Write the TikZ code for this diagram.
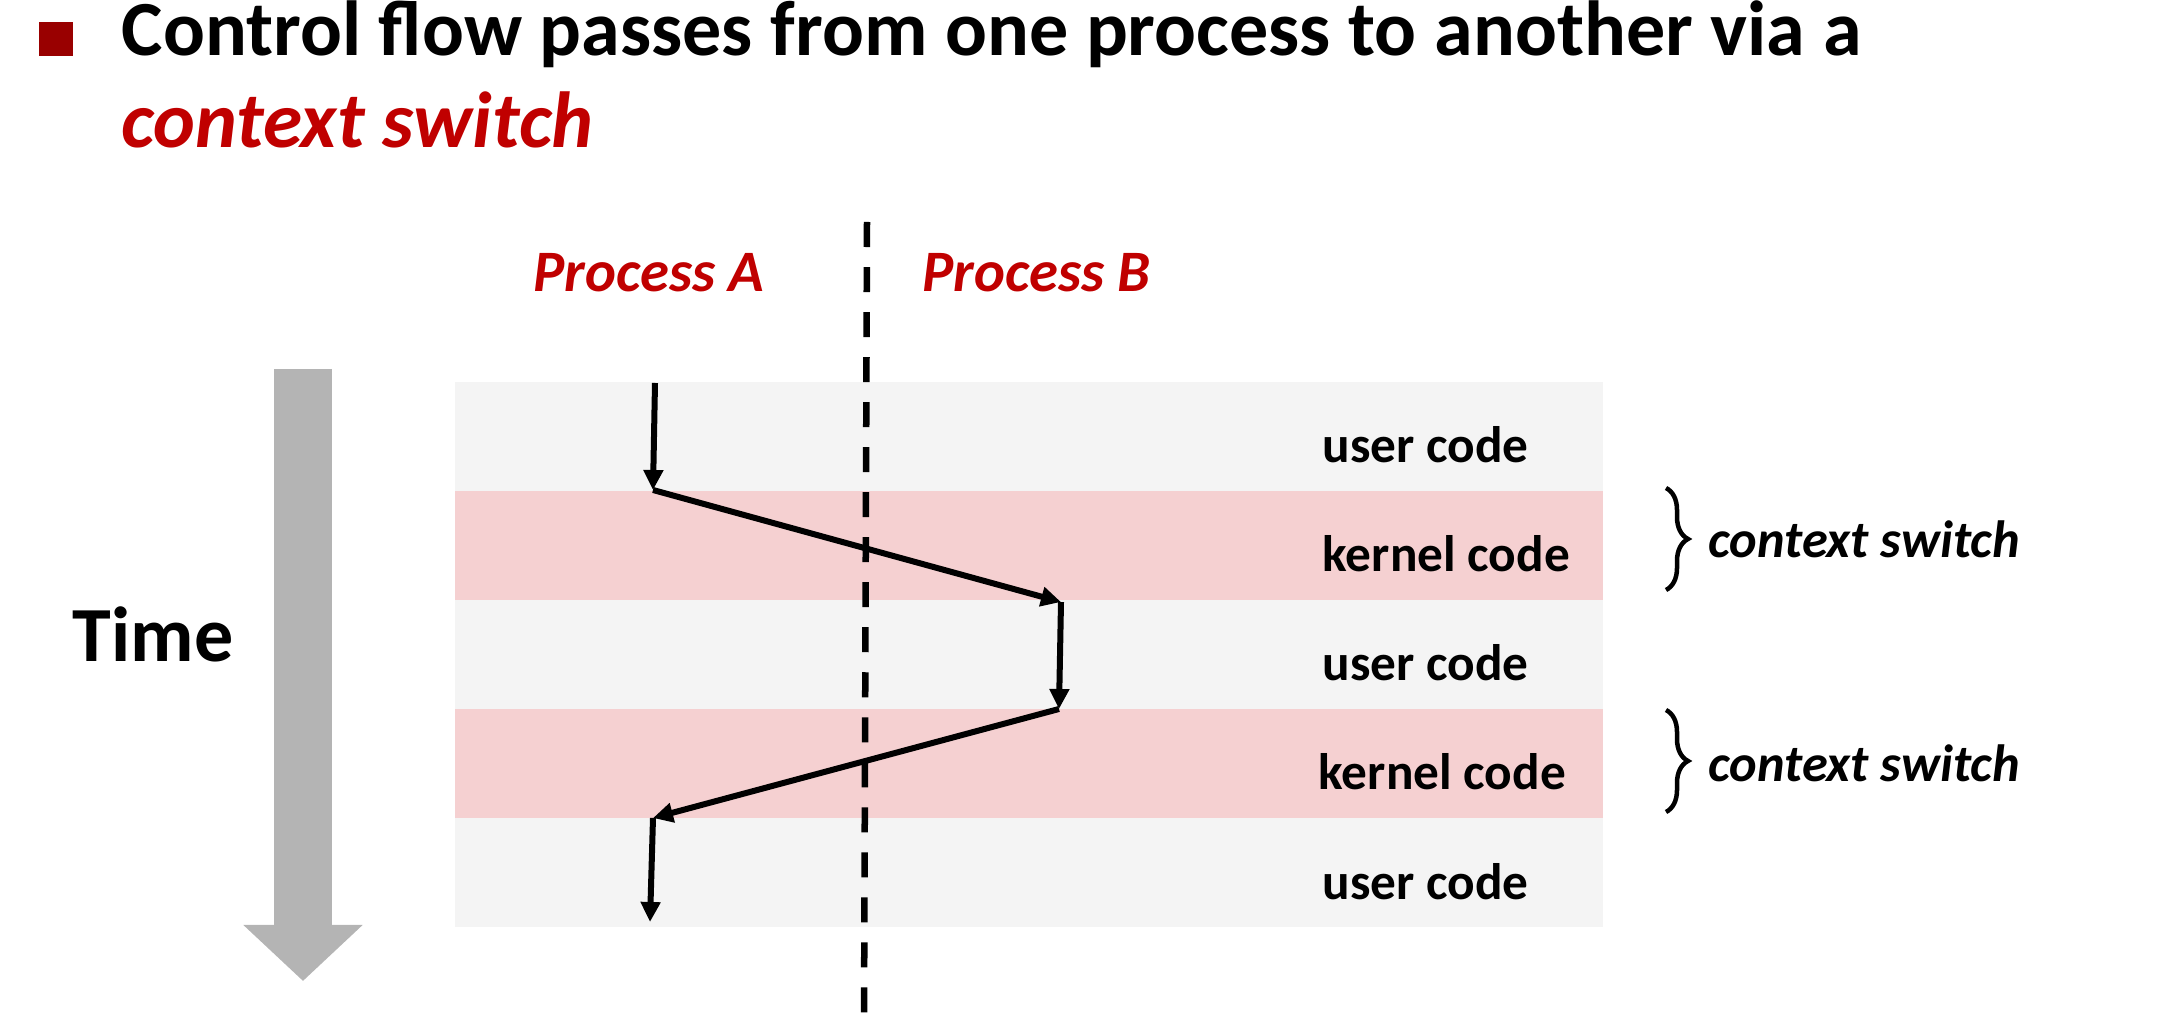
\documentclass[tikz,border=0pt]{standalone}
\usepackage{fontspec}
\setmainfont{Carlito}
\usepackage{tikz}
\usetikzlibrary{arrows.meta,positioning,decorations.pathreplacing}
\definecolor{cRed}{RGB}{192,0,0}
\definecolor{cBullet}{RGB}{153,0,0}
\definecolor{cUser}{RGB}{244,244,244}
\definecolor{cKernel}{RGB}{245,208,209}
\definecolor{cTime}{RGB}{180,180,180}
\tikzset{
headline/.style={anchor=base west,inner sep=0pt,font=\fontsize{22.2pt}{26pt}\selectfont\bfseries},
band/.style={rectangle,inner sep=0pt,outer sep=0pt,minimum width=11.48cm,minimum height=1.09cm},
codelabel/.style={anchor=base west,inner sep=0pt,font=\fontsize{14.6pt}{17pt}\selectfont\bfseries},
ctxlabel/.style={anchor=base west,inner sep=0pt,font=\fontsize{14.9pt}{17pt}\selectfont\bfseries\itshape},
proclabel/.style={anchor=base west,inner sep=0pt,text=cRed,font=\fontsize{16.7pt}{19pt}\selectfont\bfseries\itshape},
flow/.style={-{Triangle[length=0.2cm,width=0.19cm]},line width=0.06cm},
divider/.style={line width=0.065cm,dash pattern=on 0.25cm off 0.2cm},
timearrow/.style={draw=cTime,line width=0.58cm,-{Triangle[length=0.56cm,width=1.16cm]}},
cbrace/.style={decorate,decoration={brace,amplitude=0.22cm},line width=0.045cm}
}
\begin{document}
\begin{tikzpicture}[x=0.01cm,y=-0.01cm]
\useasboundingbox (0,0) rectangle (2175,1022);
% heading
\fill[cBullet] (39,22) rectangle (73,56);
\node[headline] (head1) at (121,56) {Control flow passes from one process to another via a};
\node[headline,text=cRed,font=\fontsize{22.6pt}{26pt}\selectfont\bfseries] (head2) at (121,148) {\itshape context switch};
% user / kernel bands
\node[band,fill=cUser] (user1) at (1029,436.5) {};
\node[band,fill=cKernel,below=0pt of user1] (kern1) {};
\node[band,fill=cUser,below=0pt of kern1] (user2) {};
\node[band,fill=cKernel,below=0pt of user2] (kern2) {};
\node[band,fill=cUser,below=0pt of kern2] (user3) {};
\node[codelabel] (lab1) at (1322,463) {user code};
\node[codelabel] (lab2) at (1322,572) {kernel code};
\node[codelabel] (lab3) at (1322,681) {user code};
\node[codelabel] (lab4) at (1318,790) {kernel code};
\node[codelabel] (lab5) at (1322,900) {user code};
% processes
\node[proclabel] (procA) at (533,292) {Process A};
\node[proclabel] (procB) at (922,292) {Process B};
\coordinate (dtop) at (867,222);
\coordinate (dbot) at (864,1022);
\draw[divider] (dtop) -- (dbot);
% time
\node[headline] (time) at (72,662) {Time};
\coordinate (ttop) at (303,369);
\coordinate (tbot) at (303,981);
\draw[timearrow] (ttop) -- (tbot);
% control flow
\coordinate (s1) at (655,383);
\coordinate (s2) at (653,490);
\coordinate (s3) at (1061,602);
\coordinate (s4) at (1059,709);
\coordinate (s5) at (653,818);
\coordinate (s6) at (650,922);
\draw[flow] (s1) -- (s2);
\draw[flow] (s2) -- (s3);
\draw[flow] (s3) -- (s4);
\draw[flow] (s4) -- (s5);
\draw[flow] (s5) -- (s6);
% context switches
\coordinate (br1t) at (1666,488);
\coordinate (br1b) at (1666,590);
\coordinate (br2t) at (1666,710);
\coordinate (br2b) at (1666,812);
\draw[cbrace] (br1t) -- (br1b);
\draw[cbrace] (br2t) -- (br2b);
\node[ctxlabel] (ctx1) at (1708,558) {context switch};
\node[ctxlabel] (ctx2) at (1708,782) {context switch};
\end{tikzpicture}
\end{document}
